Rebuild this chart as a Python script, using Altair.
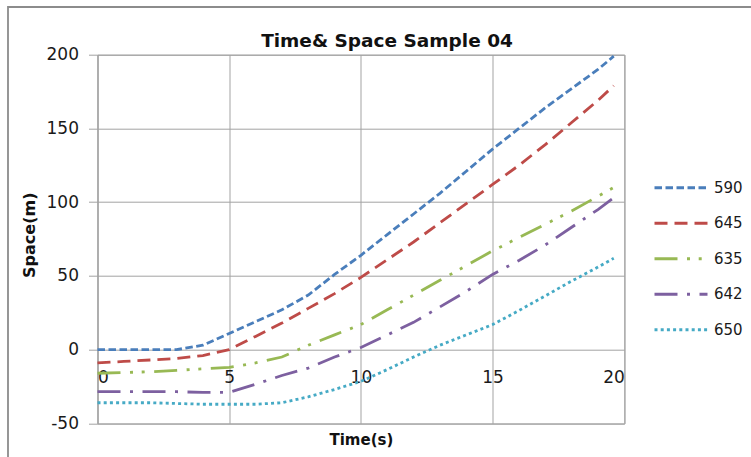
import altair as alt
import pandas as pd

times = [0, 1, 2, 3, 4, 5, 6, 7, 8, 9, 10, 11, 12, 13, 14, 15, 16, 17, 18, 19, 19.6]
s590 = [0, 0, 0, 0, 3, 11, 19, 27, 37, 51, 64, 78, 92, 106, 121, 136, 150, 164, 177, 190, 199]
s645 = [-9, -8, -7, -6, -4, 0, 9, 18, 28, 38, 49, 61, 73, 86, 99, 112, 125, 139, 154, 169, 179]
s635 = [-16, -15.5, -15, -14, -13, -12, -9, -5, 3, 10, 17, 27, 37, 47, 57, 67, 76, 85, 94, 104, 110]
s642 = [-28.5, -28.5, -28.5, -28.5, -29, -29, -23.5, -17.5, -12.5, -5, 1.5, 10, 18.5, 29, 39.5, 51, 60.5, 71, 83, 95, 103]
s650 = [-36, -36, -36, -36.5, -37, -37, -37, -36, -32, -27, -21.5, -13.5, -5, 3, 10, 17, 26.5, 36.5, 46.5, 56, 62]

names = ["590", "645", "635", "642", "650"]
colors = ["#4A7EBB", "#BE4B48", "#98B954", "#7D60A0", "#46AAC5"]
dashes = [[7.5, 3.5], [13, 7], [23, 9.5, 3, 8.7, 3, 9.5], [23, 9.5, 3, 9.5], [3, 3.2]]

x_ticks = [0, 5, 10, 15, 20]
y_ticks = [-50, 0, 50, 100, 150, 200]
chart_title = "Time& Space Sample 04"

rows = []
for name, vals in zip(names, [s590, s645, s635, s642, s650]):
    for t, v in zip(times, vals):
        rows.append({"Time": t, "Space": v, "Series": name})
df = pd.DataFrame(rows)

FONT = "DejaVu Sans"
GRID = "#a3a3a3"

lines = alt.Chart(df).mark_line(strokeWidth=2.8).encode(
    x=alt.X("Time:Q", scale=alt.Scale(domain=[0, 20], nice=False),
            axis=alt.Axis(values=x_ticks, orient="bottom", offset=-73.7, domain=False, ticks=False,
                          labelPadding=20, labelFont=FONT, labelFontSize=17, labelColor="#1a1a1a",
                          grid=True, gridColor=GRID, title="Time(s)", titleFont=FONT,
                          titleFontSize=15, titleFontWeight="bold", titleColor="#111",
                          titleY=90, titleBaseline="middle")),
    y=alt.Y("Space:Q", scale=alt.Scale(domain=[-50, 200], nice=False),
            axis=alt.Axis(values=y_ticks, domainColor=GRID, tickColor=GRID, tickSize=9,
                          labelPadding=10, labelFont=FONT, labelFontSize=17, labelColor="#1a1a1a",
                          labelExpr="datum.value + ''",
                          grid=True, gridColor=GRID, title="Space(m)", titleFont=FONT,
                          titleFontSize=16, titleFontWeight="bold", titleColor="#111",
                          titleX=-68.5, titleY=180, titleBaseline="middle", titleAlign="center")),
    color=alt.Color("Series:N", scale=alt.Scale(domain=names, range=colors),
                    legend=alt.Legend(title=None, orient="none", legendX=555.5, legendY=125,
                                      symbolType="stroke", symbolSize=2809, symbolStrokeWidth=3,
                                      clipHeight=16, rowPadding=19.5, labelOffset=5,
                                      labelFont=FONT, labelFontSize=15, labelColor="#1a1a1a")),
    strokeDash=alt.StrokeDash("Series:N", scale=alt.Scale(domain=names, range=dashes), legend=None),
    detail="Series:N",
)

frame = alt.Chart(pd.DataFrame({"k": [0]})).mark_rect(
    fill="transparent", stroke="#8c8c8c", strokeWidth=1.8
).encode(x=alt.value(-89.5), x2=alt.value(800), y=alt.value(-47.7), y2=alt.value(500))

title_mark = alt.Chart(pd.DataFrame({"k": [0]})).mark_text(
    text=chart_title, font=FONT, fontSize=18.5, fontWeight="bold", color="#111",
    align="center", baseline="alphabetic"
).encode(x=alt.value(289.5), y=alt.value(-7.7))

chart = alt.layer(frame, lines, title_mark).properties(
    width=526.8, height=368.7,
    padding={"left": 97.5, "top": 54.7, "right": 126.7, "bottom": 33.6},
    autosize=alt.AutoSizeParams(type="none"),
    background="white",
).configure_view(stroke=GRID, strokeWidth=1)

chart.save("out.html", embed_options={"renderer": "svg", "actions": False})
